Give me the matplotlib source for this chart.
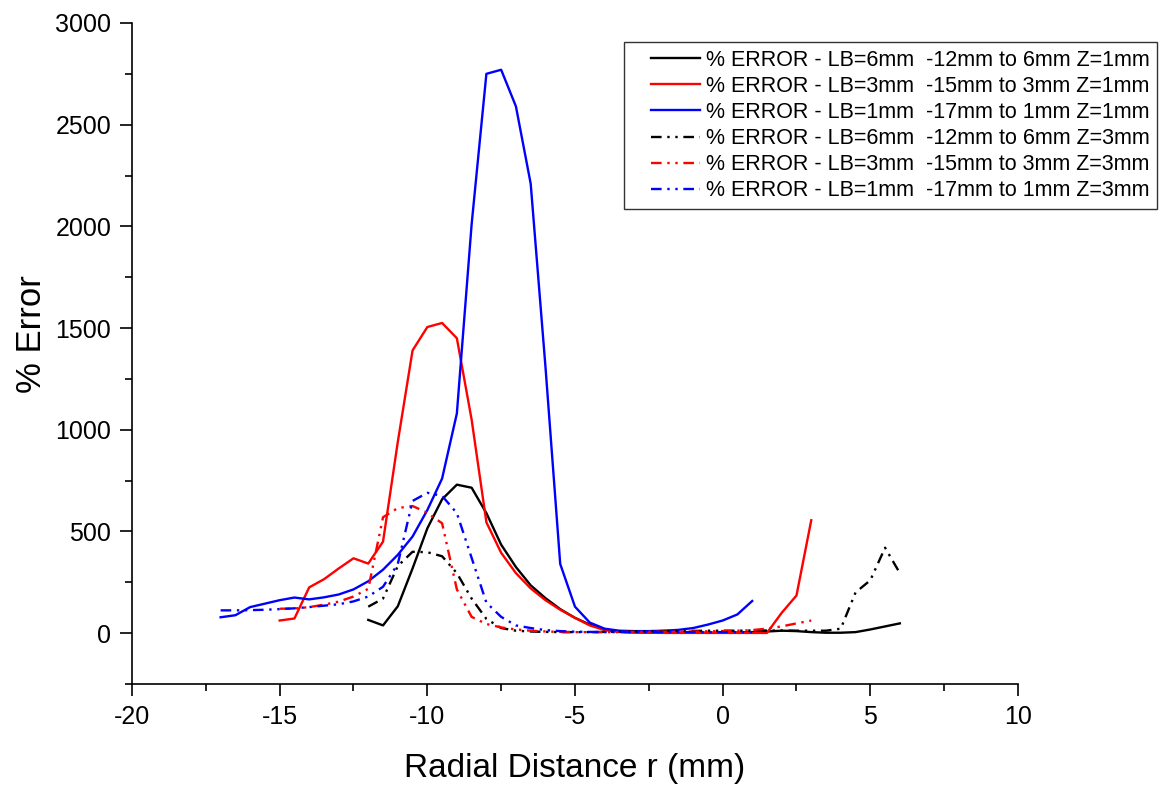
import numpy as np
import matplotlib
matplotlib.use("Agg")
import matplotlib.pyplot as plt
from matplotlib.ticker import MultipleLocator
from matplotlib.legend_handler import HandlerLine2D

plt.rcParams['font.family'] = ['Liberation Sans', 'DejaVu Sans']
plt.rcParams['axes.unicode_minus'] = False

# radial positions (mm), 0.5 mm steps
r_lb6 = np.arange(-12, 6.01, 0.5)
r_lb3 = np.arange(-15, 3.01, 0.5)
r_lb1 = np.arange(-17, 1.01, 0.5)

# Z = 1 mm
err_lb6_z1 = [65, 38, 132, 318, 515, 658, 730, 715, 590, 435,
              325, 235, 172, 118, 75, 42, 18, 8, 4, 3,
              2, 2, 2, 2, 2, 3, 5, 8, 12, 10,
              5, 2, 2, 5, 18, 33, 48]
err_lb3_z1 = [62, 72, 225, 265, 318, 368, 342, 450, 940, 1390,
              1505, 1525, 1450, 1050, 545, 395, 295, 220, 162, 115,
              75, 38, 15, 6, 3, 2, 1, 1, 1, 1,
              1, 1, 1, 1, 100, 185, 555]
err_lb1_z1 = [78, 88, 128, 145, 162, 175, 166, 176, 190, 215,
              255, 312, 385, 475, 605, 760, 1080, 2010, 2750, 2770,
              2590, 2210, 1310, 340, 130, 52, 22, 12, 10, 10,
              12, 16, 25, 42, 62, 92, 158]

# Z = 3 mm
err_lb6_z3 = [130, 170, 330, 400, 398, 378, 295, 170, 70, 25,
              12, 8, 6, 5, 5, 5, 6, 7, 8, 9,
              10, 10, 11, 12, 12, 12, 13, 13, 13, 12,
              12, 12, 22, 200, 260, 420, 295]
err_lb3_z3 = [120, 121, 128, 140, 155, 180, 218, 570, 615, 625,
              592, 540, 215, 80, 45, 28, 18, 12, 8, 6,
              5, 5, 5, 5, 6, 6, 7, 7, 8, 9,
              10, 12, 15, 22, 33, 48, 62]
err_lb1_z3 = [112, 112, 113, 115, 118, 122, 128, 135, 142, 156,
              180, 228, 340, 650, 690, 675, 590, 370, 150, 80,
              38, 25, 15, 10, 7, 6, 5, 5, 5, 5,
              5, 5, 5, 5, 5, 5, 5]

labels = ['% ERROR - LB=6mm  -12mm to 6mm Z=1mm',
          '% ERROR - LB=3mm  -15mm to 3mm Z=1mm',
          '% ERROR - LB=1mm  -17mm to 1mm Z=1mm',
          '% ERROR - LB=6mm  -12mm to 6mm Z=3mm',
          '% ERROR - LB=3mm  -15mm to 3mm Z=3mm',
          '% ERROR - LB=1mm  -17mm to 1mm Z=3mm']

fig = plt.figure(figsize=(11.63, 7.87), dpi=100)
ax = fig.add_axes([0.1135, 0.1309, 0.7618, 0.8399])

dashdotdot = (0, (4.5, 2.4, 1, 2.4, 1, 2.4))
lw = 1.7
ax.plot(r_lb6, err_lb6_z1, color='black', lw=lw, label=labels[0])
ax.plot(r_lb3, err_lb3_z1, color='red', lw=lw, label=labels[1])
ax.plot(r_lb1, err_lb1_z1, color='blue', lw=lw, label=labels[2])
ax.plot(r_lb6, err_lb6_z3, color='black', lw=lw, ls=dashdotdot, label=labels[3])
ax.plot(r_lb3, err_lb3_z3, color='red', lw=lw, ls=dashdotdot, label=labels[4])
ax.plot(r_lb1, err_lb1_z3, color='blue', lw=lw, ls=dashdotdot, label=labels[5])

ax.set_xlim(-20, 10)
ax.set_ylim(-250, 3000)
ax.xaxis.set_major_locator(MultipleLocator(5))
ax.xaxis.set_minor_locator(MultipleLocator(2.5))
ax.yaxis.set_major_locator(MultipleLocator(500))
ax.yaxis.set_minor_locator(MultipleLocator(250))
ax.set_yticks(np.arange(0, 3001, 500))

for s in ['top', 'right']:
    ax.spines[s].set_visible(False)
for s in ['left', 'bottom']:
    ax.spines[s].set_linewidth(1.2)

ax.tick_params(which='major', direction='out', length=8.5, width=1.2, labelsize=18, pad=6.5)
ax.tick_params(which='minor', direction='out', length=5, width=1.2)

ax.set_xlabel('Radial Distance r (mm)', fontsize=24)
ax.set_ylabel('% Error', fontsize=25)
ax.xaxis.set_label_coords(0.5, -0.105)
ax.yaxis.set_label_coords(-0.095, 0.53)

leg = fig.legend(loc='upper left', bbox_to_anchor=(624 / 1163, 1 - 42 / 787),
                 fontsize=15.5, frameon=True, fancybox=False, edgecolor='#333333',
                 framealpha=1, labelspacing=0.24, handlelength=3.2,
                 handletextpad=0.25, borderpad=0.35, borderaxespad=0,
                 handler_map={plt.Line2D: HandlerLine2D(xpad=0.9)})
leg.get_frame().set_linewidth(1.0)

fig.savefig('out.png', dpi=100)
